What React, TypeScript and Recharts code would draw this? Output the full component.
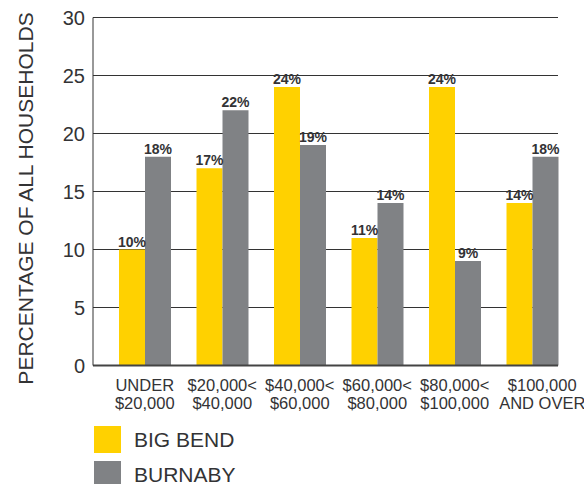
import React from 'react'
import { BarChart, Bar, XAxis, YAxis, CartesianGrid, LabelList } from 'recharts'

const categories = ['UNDER $20,000', '$20,000< $40,000', '$40,000< $60,000', '$60,000< $80,000', '$80,000< $100,000', '$100,000 AND OVER']
const tickLines = [
  ['UNDER', '$20,000'],
  ['$20,000<', '$40,000'],
  ['$40,000<', '$60,000'],
  ['$60,000<', '$80,000'],
  ['$80,000<', '$100,000'],
  ['$100,000', 'AND OVER'],
]
const bigBend = [10, 17, 24, 11, 24, 14]
const burnaby = [18, 22, 19, 14, 9, 18]
const yTicks = [0, 5, 10, 15, 20, 25, 30]

const seriesNames = ['BIG BEND', 'BURNABY']
const seriesColors = ['#FFD100', '#808285']

const data = categories.map((name, i) => ({
  name,
  bigBend: bigBend[i],
  burnaby: burnaby[i],
}))

const FONT = '"Liberation Sans", Arial, Helvetica, sans-serif'
const TEXT = '#333335'

// labels sit under the yellow/gray pair, not the band centre;
// the last one is nudged a bit further right like in the original
function XTick(props: any) {
  const { x, y, payload } = props
  const lines = tickLines[payload.index] || []
  const tx = x + 13 + (payload.index === tickLines.length - 1 ? 10 : 0)
  return (
    <text x={tx} y={y + 25} textAnchor="middle" fontSize={16.5} fill={TEXT} fontFamily={FONT}>
      {lines.map((l, i) => (
        <tspan key={i} x={tx} dy={i === 0 ? 0 : 18}>{l}</tspan>
      ))}
    </text>
  )
}

function YTitle(props: any) {
  const { viewBox } = props
  const cx = 25
  const cy = viewBox.y + viewBox.height / 2 + 7
  return (
    <text
      x={cx}
      y={cy}
      transform={`rotate(-90, ${cx}, ${cy})`}
      textAnchor="middle"
      dominantBaseline="central"
      fontSize={21}
      fill={TEXT}
      fontFamily={FONT}
    >
      PERCENTAGE OF ALL HOUSEHOLDS
    </text>
  )
}

const labelStyle = { fontSize: 14, fontWeight: 'bold', fill: TEXT, fontFamily: FONT }

export default function App() {
  return (
    <div style={{ position: 'relative', width: 584, height: 484, overflow: 'hidden', background: '#fff' }}>
      <style>{'body{margin:0}'}</style>
      <BarChart
        width={584}
        height={484}
        data={data}
        margin={{ top: 17.5, right: 26, bottom: 0, left: 0 }}
        barCategoryGap={0}
        barGap={0}
      >
        <CartesianGrid vertical={false} stroke="#333" />
        <XAxis
          dataKey="name"
          height={118.5}
          interval={0}
          tickLine={false}
          tickSize={0}
          tickMargin={0}
          axisLine={{ stroke: '#444', strokeWidth: 2 }}
          tick={<XTick />}
        />
        <YAxis
          width={93}
          domain={[0, 30]}
          ticks={yTicks}
          tickLine={false}
          tickSize={8}
          tickMargin={0}
          axisLine={{ stroke: '#333' }}
          tick={{ fontSize: 20, fill: TEXT, fontFamily: FONT }}
          label={<YTitle />}
        />
        {/* empty slot so the pair ends flush with the right edge */}
        <Bar dataKey="spacer" fill="none" isAnimationActive={false} legendType="none" />
        <Bar dataKey="bigBend" fill={seriesColors[0]} isAnimationActive={false}>
          <LabelList dataKey="bigBend" position="top" offset={3} formatter={(v: any) => `${v}%`} style={labelStyle} />
        </Bar>
        <Bar dataKey="burnaby" fill={seriesColors[1]} isAnimationActive={false}>
          <LabelList dataKey="burnaby" position="top" offset={3} formatter={(v: any) => `${v}%`} style={labelStyle} />
        </Bar>
      </BarChart>
      {seriesNames.map((n, i) => (
        <div key={n} style={{ position: 'absolute', left: 94, top: 426 + i * 35, display: 'flex', alignItems: 'center' }}>
          <div style={{ width: 27, height: 27, background: seriesColors[i] }} />
          <span style={{ marginLeft: 13, fontSize: 21, color: TEXT, fontFamily: FONT, lineHeight: '27px' }}>{n}</span>
        </div>
      ))}
    </div>
  )
}
